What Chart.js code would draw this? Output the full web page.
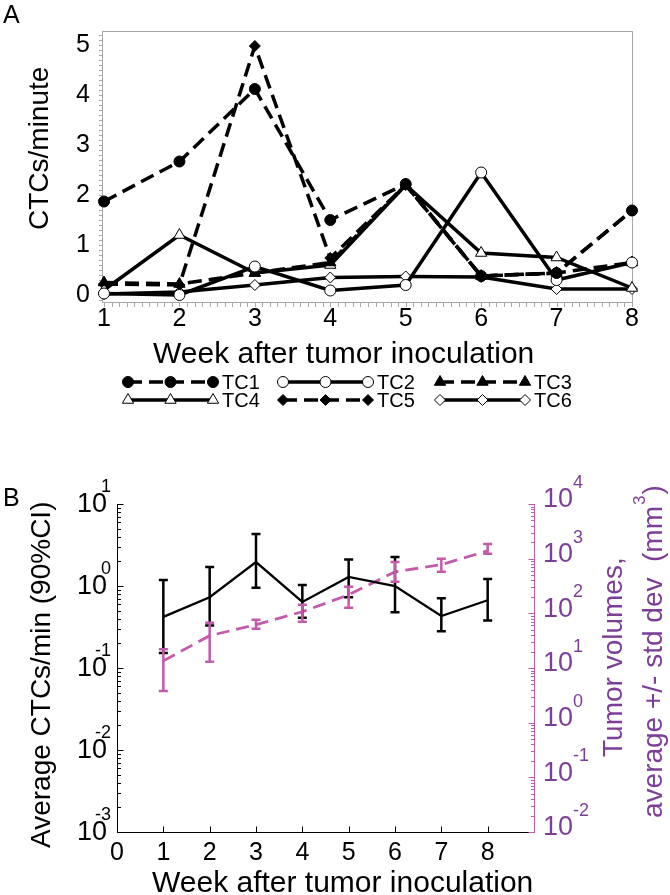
<!DOCTYPE html>
<html>
<head>
<meta charset="utf-8">
<script src="https://cdn.jsdelivr.net/npm/chart.js@4.4.1/dist/chart.umd.min.js"></script>
<style>
html, body { margin: 0; padding: 0; background: #fff; }
#wrapA { position: absolute; left: 0; top: 0; width: 670px; height: 470px; }
#wrapB { position: absolute; left: 0; top: 470px; width: 670px; height: 425px; }
</style>
</head>
<body>
<div id="wrapA"><canvas id="chartA"></canvas></div>
<div id="wrapB"><canvas id="chartB"></canvas></div>
<script>
// ---- Panel A : CTCs/minute per mouse ----
var weeks = [1, 2, 3, 4, 5, 6, 7, 8];
var seriesNames = ['TC1', 'TC2', 'TC3', 'TC4', 'TC5', 'TC6'];
var tc1 = [1.87, 2.67, 4.12, 1.50, 2.22, 0.38, 0.44, 1.69];
var tc2 = [0.03, 0.00, 0.57, 0.09, 0.20, 2.45, 0.30, 0.65];
var tc3 = [0.25, 0.22, 0.44, 0.65, 2.20, 0.38, 0.44, 0.65];
var tc4 = [0.10, 1.20, 0.44, 0.60, 2.20, 0.84, 0.75, 0.14];
var tc5 = [0.22, 0.20, 4.98, 0.74, 2.20, 0.38, 0.44, 1.69];
var tc6 = [0.02, 0.06, 0.20, 0.35, 0.37, 0.36, 0.12, 0.12];

// ---- Panel B : average CTCs (90% CI) and tumor volumes ----
var weeksB = [1, 2, 3, 4, 5, 6, 7, 8];
var weekTicksB = [0, 1, 2, 3, 4, 5, 6, 7, 8];
var ctcMean = [0.42, 0.73, 1.96, 0.64, 1.29, 1.00, 0.43, 0.67];
var ctcLow  = [0.152, 0.33, 0.95, 0.41, 0.73, 0.48, 0.28, 0.38];
var ctcHigh = [1.18, 1.70, 4.30, 1.03, 2.10, 2.26, 0.71, 1.22];
var volMean = [13.5, 39, 62, 107, 218, 575, 775, 1390];
var volLow  = [3.8, 13, 52, 70, 126, 380, 575, 1230];
var volHigh = [22, 67, 76, 143, 308, 870, 1000, 1860];
var ctcExponents = [-3, -2, -1, 0, 1];
var volExponents = [-2, -1, 0, 1, 2, 3, 4];

var FONT = "'Liberation Sans', Arial, Helvetica, sans-serif";
var PURPLE_TEXT = 'rgb(125,62,152)';
var PURPLE_LINE = 'rgb(196,90,172)';
Chart.defaults.font.family = FONT;
Chart.defaults.color = '#000';

// look of each series in A
var looks = [
    { dash: [14, 7], point: 'circle',   filled: true,  r: 5.5 },
    { dash: [],      point: 'circle',   filled: false, r: 5.5 },
    { dash: [14, 7], point: 'triangle', filled: true,  r: 6.5 },
    { dash: [],      point: 'triangle', filled: false, r: 6.5 },
    { dash: [14, 7], point: 'rectRot',  filled: true,  r: 5.5 },
    { dash: [],      point: 'rectRot',  filled: false, r: 5.5 }
];
var seriesValues = [tc1, tc2, tc3, tc4, tc5, tc6];

function drawMarker(ctx, style, filled, r, x, y) {
    ctx.save();
    ctx.setLineDash([]);
    ctx.beginPath();
    if (style === 'circle') {
        ctx.arc(x, y, r, 0, Math.PI * 2);
    } else if (style === 'triangle') {
        ctx.moveTo(x, y - r);
        ctx.lineTo(x + r * 0.866, y + r * 0.5);
        ctx.lineTo(x - r * 0.866, y + r * 0.5);
        ctx.closePath();
    } else {
        ctx.moveTo(x, y - r); ctx.lineTo(x + r, y); ctx.lineTo(x, y + r); ctx.lineTo(x - r, y);
        ctx.closePath();
    }
    ctx.fillStyle = filled ? '#000' : '#fff';
    ctx.fill();
    ctx.lineWidth = 1;
    ctx.strokeStyle = '#000';
    ctx.stroke();
    ctx.restore();
}

function rotatedText(ctx, txt, x, y, size, color) {
    ctx.save();
    ctx.translate(x, y);
    ctx.rotate(-Math.PI / 2);
    ctx.font = size + 'px ' + FONT;
    ctx.fillStyle = color;
    ctx.textAlign = 'left';
    ctx.textBaseline = 'alphabetic';
    ctx.fillText(txt, 0, 0);
    var w = ctx.measureText(txt).width;
    ctx.restore();
    return w;
}

var panelA = {
    id: 'panelA',
    beforeDatasetsDraw: function (chart) {
        var ctx = chart.ctx, a = chart.chartArea;
        var xs = chart.scales.x, ys = chart.scales.y;
        ctx.save();
        ctx.strokeStyle = '#a8a8a8';
        ctx.lineWidth = 1;
        ctx.strokeRect(Math.round(a.left) - 1.5, Math.round(a.top) + 0.5,
            Math.round(a.right - a.left) + 2, Math.round(a.bottom - a.top));
        // minor ticks, outward
        ctx.beginPath();
        for (var i = 10; i <= 80; i++) {
            var px = Math.round(xs.getPixelForValue(i / 10)) + 0.5;
            ctx.moveTo(px, a.bottom + 0.5); ctx.lineTo(px, a.bottom + 5);
        }
        for (var j = -1; j <= 52; j++) {
            var py = Math.round(ys.getPixelForValue(j / 10)) + 0.5;
            if (py < a.top || py > a.bottom) continue;
            ctx.moveTo(a.left - 2, py); ctx.lineTo(a.left - 5, py);
        }
        ctx.stroke();
        ctx.restore();
    },
    afterDraw: function (chart) {
        var ctx = chart.ctx;
        ctx.save();
        ctx.fillStyle = '#000';
        ctx.font = '25px ' + FONT;
        ctx.textBaseline = 'alphabetic';
        ctx.fillText('A', 3, 23);
        ctx.font = '30px ' + FONT;
        ctx.fillText('Week after tumor inoculation', 153, 363);
        ctx.restore();
        rotatedText(ctx, 'CTCs/minute', 48, 230, 28, '#000');

        // legend: line sample with three markers
        var cols = [128, 283, 440], rows = [382, 400], len = 85;
        chart.data.datasets.forEach(function (ds, k) {
            var lk = looks[k];
            var x0 = cols[k % 3], y = rows[Math.floor(k / 3)];
            ctx.save();
            ctx.strokeStyle = '#000';
            ctx.lineWidth = 3.5;
            ctx.setLineDash(lk.dash);
            ctx.beginPath(); ctx.moveTo(x0, y); ctx.lineTo(x0 + len, y); ctx.stroke();
            ctx.restore();
            [0, 0.5, 1].forEach(function (f) { drawMarker(ctx, lk.point, lk.filled, lk.r, x0 + f * len, y); });
            ctx.save();
            ctx.font = '20px ' + FONT;
            ctx.fillStyle = '#000';
            ctx.textBaseline = 'middle';
            ctx.fillText(ds.label, x0 + len + 9, y + 1);
            ctx.restore();
        });
    }
};

new Chart(document.getElementById('chartA'), {
    type: 'line',
    data: {
        datasets: seriesNames.map(function (name, i) {
            var lk = looks[i];
            return {
                label: name,
                data: seriesValues[i].map(function (v, j) { return { x: weeks[j], y: v }; }),
                borderColor: '#000',
                borderWidth: 3.5,
                borderDash: lk.dash,
                pointStyle: lk.point,
                pointRadius: lk.r,
                pointBackgroundColor: lk.filled ? '#000' : '#fff',
                pointBorderColor: '#000',
                pointBorderWidth: 1,
                tension: 0,
                fill: false,
                clip: false
            };
        })
    },
    options: {
        responsive: true,
        maintainAspectRatio: false,
        animation: false,
        layout: { padding: { top: 31, right: 38, left: 0, bottom: 0 } },
        plugins: { legend: { display: false }, tooltip: { enabled: false } },
        scales: {
            x: {
                type: 'linear', min: 1, max: 8,
                grid: { display: false, drawTicks: false }, border: { display: false },
                ticks: { stepSize: 1, padding: 2, font: { size: 25 }, color: '#000', autoSkip: false, maxRotation: 0 },
                afterFit: function (s) { s.height = 168; }
            },
            y: {
                type: 'linear', min: -0.14, max: 5.28,
                grid: { display: false, drawTicks: false }, border: { display: false },
                ticks: { stepSize: 1, includeBounds: false, padding: 14, font: { size: 25 }, color: '#000' },
                afterFit: function (s) { s.width = 104; }
            }
        }
    },
    plugins: [panelA]
});

// ---- Panel B ----
var panelB = {
    id: 'panelB',
    beforeDatasetsDraw: function (chart) {
        var ctx = chart.ctx, a = chart.chartArea;
        var xs = chart.scales.x, yl = chart.scales.y, yr = chart.scales.y2;
        var L = Math.round(a.left) + 0.5, R = Math.round(a.right) + 0.5, B = Math.round(a.bottom) + 0.5;
        ctx.save();
        ctx.lineWidth = 1;
        // left axis + bottom axis
        ctx.strokeStyle = '#000';
        ctx.beginPath();
        ctx.moveTo(L, a.top); ctx.lineTo(L, B); ctx.lineTo(R, B);
        ctx.stroke();
        ctx.beginPath();
        weekTicksB.forEach(function (w) {
            var px = Math.round(xs.getPixelForValue(w)) + 0.5;
            ctx.moveTo(px, B); ctx.lineTo(px, B - 6);
        });
        ctcExponents.forEach(function (e) {
            var py = Math.round(yl.getPixelForValue(Math.pow(10, e))) + 0.5;
            ctx.moveTo(L, py); ctx.lineTo(L + 6, py);
            if (e < 1) {
                for (var m = 2; m <= 9; m++) {
                    var q = Math.round(yl.getPixelForValue(m * Math.pow(10, e))) + 0.5;
                    ctx.moveTo(L, q); ctx.lineTo(L + 3.5, q);
                }
            }
        });
        ctx.stroke();
        // right axis
        ctx.strokeStyle = PURPLE_LINE;
        ctx.beginPath();
        ctx.moveTo(R, a.top); ctx.lineTo(R, B);
        volExponents.forEach(function (e) {
            var py = Math.round(yr.getPixelForValue(Math.pow(10, e))) + 0.5;
            ctx.moveTo(R, py); ctx.lineTo(R - 6, py);
            if (e < 4) {
                for (var m = 2; m <= 9; m++) {
                    var q = Math.round(yr.getPixelForValue(m * Math.pow(10, e))) + 0.5;
                    ctx.moveTo(R, q); ctx.lineTo(R - 3.5, q);
                }
            }
        });
        ctx.stroke();
        ctx.restore();
    },
    afterDatasetsDraw: function (chart) {
        var ctx = chart.ctx, xs = chart.scales.x;
        function bars(scale, lo, hi, color, width, cap) {
            ctx.save();
            ctx.strokeStyle = color;
            ctx.lineWidth = width;
            ctx.setLineDash([]);
            weeksB.forEach(function (w, i) {
                var px = xs.getPixelForValue(w);
                var p1 = scale.getPixelForValue(lo[i]), p2 = scale.getPixelForValue(hi[i]);
                ctx.beginPath();
                ctx.moveTo(px, p1); ctx.lineTo(px, p2);
                ctx.moveTo(px - cap, p1); ctx.lineTo(px + cap, p1);
                ctx.moveTo(px - cap, p2); ctx.lineTo(px + cap, p2);
                ctx.stroke();
            });
            ctx.restore();
        }
        bars(chart.scales.y, ctcLow, ctcHigh, '#000', 2.5, 4.5);
        bars(chart.scales.y2, volLow, volHigh, PURPLE_LINE, 2.5, 4.5);
    },
    afterDraw: function (chart) {
        var ctx = chart.ctx, yl = chart.scales.y, yr = chart.scales.y2;
        ctx.save();
        ctx.fillStyle = '#000';
        ctx.font = '25px ' + FONT;
        ctx.fillText('B', 3, 36);
        // left log labels
        ctcExponents.forEach(function (e) {
            var py = yl.getPixelForValue(Math.pow(10, e));
            ctx.font = '27px ' + FONT;
            ctx.textAlign = 'right';
            ctx.textBaseline = 'middle';
            ctx.fillText('10', 107, py + 1);
            ctx.font = '18px ' + FONT;
            ctx.textBaseline = 'alphabetic';
            ctx.fillText(String(e), 111, py - 12);
        });
        // right log labels
        ctx.fillStyle = PURPLE_TEXT;
        volExponents.forEach(function (e) {
            var py = yr.getPixelForValue(Math.pow(10, e));
            ctx.font = '27px ' + FONT;
            ctx.textAlign = 'left';
            ctx.textBaseline = 'middle';
            ctx.fillText('10', 543, py - 4);
            ctx.font = '18px ' + FONT;
            ctx.textBaseline = 'alphabetic';
            ctx.fillText(String(e), 573, py - 16);
        });
        ctx.fillStyle = '#000';
        ctx.textAlign = 'left';
        ctx.font = '30px ' + FONT;
        ctx.fillText('Week after tumor inoculation', 152, 422);
        ctx.restore();
        rotatedText(ctx, 'Average CTCs/min (90%CI)', 50, 378, 28, '#000');
        rotatedText(ctx, 'Tumor volumes,', 622, 287, 28, PURPLE_TEXT);
        var w = rotatedText(ctx, 'average +/- std dev  (mm', 662, 348, 28, PURPLE_TEXT);
        var w3 = rotatedText(ctx, '3', 645, 348 - w - 1, 17, PURPLE_TEXT);
        rotatedText(ctx, ')', 662, 348 - w - w3 - 2, 28, PURPLE_TEXT);
    }
};

new Chart(document.getElementById('chartB'), {
    type: 'line',
    data: {
        datasets: [{
            label: 'Average CTCs/min',
            data: weeksB.map(function (w, i) { return { x: w, y: ctcMean[i] }; }),
            yAxisID: 'y',
            borderColor: '#000',
            borderWidth: 2.3,
            pointRadius: 0,
            tension: 0,
            clip: false
        }, {
            label: 'Tumor volume',
            data: weeksB.map(function (w, i) { return { x: w, y: volMean[i] }; }),
            yAxisID: 'y2',
            borderColor: PURPLE_LINE,
            borderWidth: 2.8,
            borderDash: [13, 7],
            pointRadius: 0,
            tension: 0,
            clip: false
        }]
    },
    options: {
        responsive: true,
        maintainAspectRatio: false,
        animation: false,
        layout: { padding: { top: 34, left: 0, right: 0, bottom: 0 } },
        plugins: { legend: { display: false }, tooltip: { enabled: false } },
        scales: {
            x: {
                type: 'linear', min: 0, max: 9,
                grid: { display: false, drawTicks: false }, border: { display: false },
                ticks: {
                    stepSize: 1, padding: 6, font: { size: 25 }, color: '#000', autoSkip: false, maxRotation: 0,
                    callback: function (v) { return weekTicksB.indexOf(v) >= 0 ? String(v) : ''; }
                },
                afterFit: function (s) { s.height = 63; }
            },
            y: {
                type: 'logarithmic', position: 'left', min: 0.001, max: 10,
                grid: { display: false, drawTicks: false }, border: { display: false },
                ticks: { display: false },
                afterFit: function (s) { s.width = 117; }
            },
            y2: {
                type: 'logarithmic', position: 'right', min: 0.01, max: 10000,
                grid: { display: false, drawTicks: false }, border: { display: false },
                ticks: { display: false },
                afterFit: function (s) { s.width = 136; }
            }
        }
    },
    plugins: [panelB]
});
</script>
</body>
</html>
